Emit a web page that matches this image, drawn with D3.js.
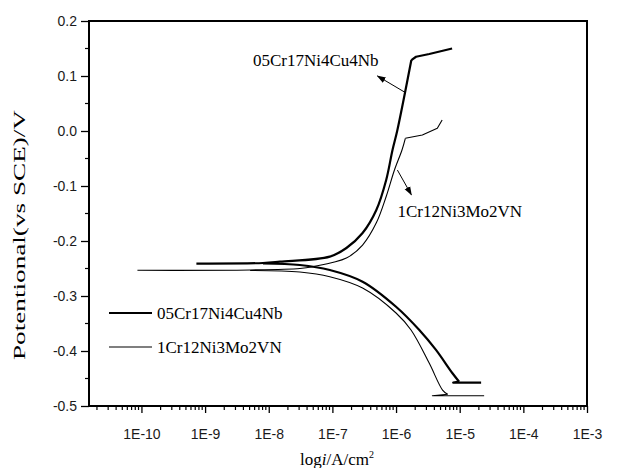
<!DOCTYPE html>
<html>
<head>
<meta charset="utf-8">
<script src="https://cdn.jsdelivr.net/npm/d3@7"></script>
<style>
  body { margin: 0; background: #fff; }
  svg { display: block; }
</style>
</head>
<body>
<svg width="627" height="468"></svg>
<script>
// current density (A/cm2) and potential (V vs SCE)
const thickAnodicI = [7.3e-10, 8.1e-9, 1.5e-8, 9.1e-8, 1.66e-7, 2.98e-7, 4.9e-7, 7.0e-7, 8.8e-7, 1.05e-6, 1.74e-6];
const thickAnodicE = [-0.241, -0.240, -0.2376, -0.2285, -0.2127, -0.1855, -0.1436, -0.089, -0.0345, 0.0018, 0.129];
const thickTopI = [1.74e-6, 2.06e-6, 3.33e-6, 7.6e-6];
const thickTopE = [0.129, 0.135, 0.140, 0.150];
const thickCathodicI = [8.1e-9, 3.08e-8, 9.1e-8, 2.98e-7, 1.0e-6, 2.32e-6, 4.24e-6, 7.7e-6, 9.8e-6];
const thickCathodicE = [-0.2409, -0.2436, -0.2527, -0.274, -0.3195, -0.3618, -0.398, -0.4405, -0.4558];
const thickTailI = [9.8e-6, 7.9e-6, 2.17e-5];
const thickTailE = [-0.4558, -0.4576, -0.4576];

const thinAnodicI = [8.65e-11, 5.1e-9, 3.09e-8, 4.9e-8, 1.66e-7, 2.98e-7, 4.9e-7, 7.0e-7, 9.44e-7, 1.24e-6, 1.40e-6];
const thinAnodicE = [-0.2533, -0.2527, -0.250, -0.2467, -0.231, -0.2073, -0.167, -0.119, -0.071, -0.0345, -0.0133];
const thinTopI = [1.40e-6, 2.59e-6, 4.45e-6, 5.3e-6];
const thinTopE = [-0.0133, -0.0073, 0.005, 0.02];
const thinCathodicI = [5.1e-9, 3.08e-8, 9.1e-8, 2.98e-7, 1.0e-6, 1.72e-6, 3.33e-6, 5.38e-6, 6.46e-6];
const thinCathodicE = [-0.2536, -0.2564, -0.2649, -0.2855, -0.3309, -0.3618, -0.4224, -0.471, -0.4787];
const thinTailI = [6.46e-6, 3.72e-6, 2.42e-5];
const thinTailE = [-0.4787, -0.4813, -0.4813];

const seriesNames = ["05Cr17Ni4Cu4Nb", "1Cr12Ni3Mo2VN"];

const xTicks = [1e-10, 1e-9, 1e-8, 1e-7, 1e-6, 1e-5, 1e-4, 1e-3];
const xTickLabels = ["1E-10", "1E-9", "1E-8", "1E-7", "1E-6", "1E-5", "1E-4", "1E-3"];
const yTicks = [0.2, 0.1, 0.0, -0.1, -0.2, -0.3, -0.4, -0.5];

// annotation arrows: [tailI, tailE, headI, headE]
const arrowThick = [1.35e-6, 0.071, 5.1e-7, 0.100];
const arrowThin = [1.05e-6, -0.071, 1.74e-6, -0.116];
const labelThickPos = [5.66e-9, 0.118];
const labelThinPos = [1.05e-6, -0.156];

const svg = d3.select("svg");
const mLeft = 89, mRight = 587, mTop = 21, mBottom = 406;

const x = d3.scaleLog().domain([1.5e-11, 1e-3]).range([mLeft, mRight]);
const y = d3.scaleLinear().domain([-0.5, 0.2]).range([mBottom, mTop]);

svg.append("defs").append("marker")
  .attr("id", "arrow")
  .attr("viewBox", "0 0 10 10")
  .attr("refX", 9).attr("refY", 5)
  .attr("markerWidth", 9).attr("markerHeight", 9)
  .attr("markerUnits", "userSpaceOnUse")
  .attr("orient", "auto")
  .append("path").attr("d", "M0,1.5 L10,5 L0,8.5 Z").attr("fill", "#000");

// minor x ticks
const minorX = [];
for (let e = -11; e < -3; e++) {
  for (let m = 2; m <= 9; m++) {
    const v = m * Math.pow(10, e);
    if (v >= 1.5e-11 && v < 1e-3) minorX.push(v);
  }
}

const tickFont = "'Liberation Sans', Arial, sans-serif";
const xAxis = d3.axisBottom(x).tickValues(xTicks)
  .tickFormat((d, i) => xTickLabels[i]).tickSize(7).tickPadding(16);
const gx = svg.append("g").attr("transform", `translate(0,${mBottom})`).call(xAxis);
gx.select(".domain").remove();
gx.selectAll(".tick line").attr("stroke-width", 1.3);
gx.selectAll(".tick text").attr("font-family", tickFont).attr("font-size", 14).attr("fill", "#1a1a1a");
svg.append("g").selectAll("line").data(minorX).join("line")
  .attr("x1", d => x(d)).attr("x2", d => x(d))
  .attr("y1", mBottom).attr("y2", mBottom + 4)
  .attr("stroke", "#000").attr("stroke-width", 1.2);

const yAxis = d3.axisLeft(y).tickValues(yTicks)
  .tickFormat(d => d.toFixed(1)).tickSize(8).tickPadding(4);
const gy = svg.append("g").attr("transform", `translate(${mLeft},0)`).call(yAxis);
gy.select(".domain").remove();
gy.selectAll(".tick line").attr("stroke-width", 1.3);
gy.selectAll(".tick text").attr("font-family", tickFont).attr("font-size", 14).attr("fill", "#1a1a1a");
const minorY = d3.range(0.15, -0.5, -0.1);
svg.append("g").selectAll("line").data(minorY).join("line")
  .attr("x1", mLeft - 4).attr("x2", mLeft)
  .attr("y1", d => y(d)).attr("y2", d => y(d))
  .attr("stroke", "#000").attr("stroke-width", 1.2);

// frame
svg.append("rect")
  .attr("x", mLeft).attr("y", mTop)
  .attr("width", mRight - mLeft).attr("height", mBottom - mTop)
  .attr("fill", "none").attr("stroke", "#000").attr("stroke-width", 2);

const smooth = d3.line().x(d => x(d[0])).y(d => y(d[1])).curve(d3.curveCatmullRom.alpha(0.5));
const straight = d3.line().x(d => x(d[0])).y(d => y(d[1]));
const zipPts = (a, b) => a.map((v, i) => [v, b[i]]);

function drawLine(gen, I, E, w) {
  svg.append("path")
    .attr("d", gen(zipPts(I, E)))
    .attr("fill", "none").attr("stroke", "#000")
    .attr("stroke-width", w).attr("stroke-linejoin", "round");
}

drawLine(smooth, thinAnodicI, thinAnodicE, 1.1);
drawLine(straight, thinTopI, thinTopE, 1.1);
drawLine(smooth, thinCathodicI, thinCathodicE, 1.1);
drawLine(straight, thinTailI, thinTailE, 1.1);

drawLine(smooth, thickAnodicI, thickAnodicE, 2.2);
drawLine(straight, thickTopI, thickTopE, 2.2);
drawLine(smooth, thickCathodicI, thickCathodicE, 2.2);
drawLine(straight, thickTailI, thickTailE, 2.2);

// annotations
[arrowThick, arrowThin].forEach(a => {
  svg.append("line")
    .attr("x1", x(a[0])).attr("y1", y(a[1]))
    .attr("x2", x(a[2])).attr("y2", y(a[3]))
    .attr("stroke", "#000").attr("stroke-width", 1)
    .attr("marker-end", "url(#arrow)");
});

const serif = "'Liberation Serif', 'Times New Roman', serif";
svg.append("text").attr("x", x(labelThickPos[0])).attr("y", y(labelThickPos[1]))
  .attr("font-family", serif).attr("font-size", 17).text(seriesNames[0]);
svg.append("text").attr("x", x(labelThinPos[0])).attr("y", y(labelThinPos[1]))
  .attr("font-family", serif).attr("font-size", 17).text(seriesNames[1]);

// legend
const legend = svg.append("g");
seriesNames.forEach((name, i) => {
  const ly = 313 + i * 34;
  legend.append("line").attr("x1", 109).attr("x2", 152).attr("y1", ly).attr("y2", ly)
    .attr("stroke", "#000").attr("stroke-width", i === 0 ? 2.2 : 1.1);
  legend.append("text").attr("x", 157).attr("y", ly + 6)
    .attr("font-family", serif).attr("font-size", 17).text(name);
});

// axis titles
svg.append("text")
  .attr("transform", "translate(25,235) rotate(-90)")
  .attr("text-anchor", "middle")
  .attr("font-family", serif).attr("font-size", 17)
  .attr("textLength", 250).attr("lengthAdjust", "spacingAndGlyphs")
  .text("Potentional(vs SCE)/V");

const xt = svg.append("text")
  .attr("x", 337).attr("y", 465)
  .attr("text-anchor", "middle")
  .attr("font-family", serif).attr("font-size", 17);
xt.append("tspan").text("log");
xt.append("tspan").attr("font-style", "italic").text("i");
xt.append("tspan").text("/A/cm");
xt.append("tspan").attr("font-size", 10).attr("dy", -7).text("2");
</script>
</body>
</html>
